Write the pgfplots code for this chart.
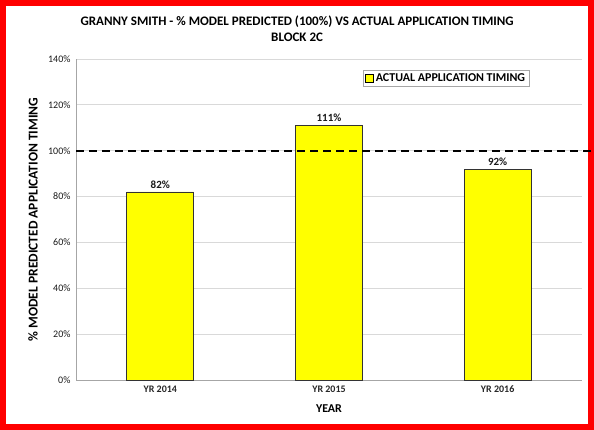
\documentclass[border=0pt]{standalone}
\usepackage{pgfplots}
\pgfplotsset{compat=1.18}
\usepackage{fontspec}
\setmainfont{Carlito}
\definecolor{gridgray}{HTML}{D9D9D9}
\definecolor{axgray}{HTML}{A6A6A6}
\definecolor{baryellow}{HTML}{FFFF00}
\begin{document}
\begin{tikzpicture}
\path (0pt,0pt) rectangle (594pt,430pt);
\draw[red, line width=6pt] (3pt,3pt) rectangle (591pt,427pt);
\begin{axis}[
  at={(76pt,50pt)}, anchor=south west,
  scale only axis, width=506pt, height=321pt,
  xmin=-0.5, xmax=2.5, ymin=0, ymax=140,
  bar width=67pt,
  xtick={0,1,2},
  xticklabels={YR 2014,YR 2015,YR 2016},
  major x tick style={draw=none},
  extra x ticks={-0.5,0.5,1.5,2.5},
  extra x tick labels={},
  extra x tick style={tick style={draw=axgray}, tick align=outside, major tick length=4pt},
  ytick={0,20,40,60,80,100,120,140},
  yticklabels={0\%,20\%,40\%,60\%,80\%,100\%,120\%,140\%},
  ytick style={draw=none},
  ymajorgrids, grid style={gridgray, line width=0.8pt},
  axis x line*=bottom, axis y line*=left,
  axis line style={axgray, line width=0.8pt},
  xticklabel style={font=\bfseries\fontsize{10}{12}\selectfont, text=black!85, yshift=-2pt},
  yticklabel style={font=\fontsize{10}{12}\selectfont, text=black!90, xshift=-2pt},
  xlabel={YEAR},
  xlabel style={at={(axis description cs:0.5,0)}, anchor=center, yshift=-29pt, font=\bfseries\fontsize{12}{14}\selectfont},
  ylabel={\% MODEL PREDICTED APPLICATION TIMING},
  ylabel style={at={(axis description cs:0,0.5)}, anchor=center, yshift=43pt, font=\bfseries\fontsize{13.5}{16}\selectfont},
  title={GRANNY SMITH - \% MODEL PREDICTED (100\%) VS ACTUAL APPLICATION TIMING\\BLOCK 2C},
  title style={at={(axis description cs:0.437,1)}, anchor=center, yshift=24pt, align=center, font=\bfseries\fontsize{13}{16}\selectfont},
  legend style={at={(axis description cs:0.567,0.966)}, anchor=north west, draw=axgray, font=\bfseries\fontsize{12}{14}\selectfont, inner xsep=2pt, inner ysep=1.5pt},
  legend image code/.code={\draw[fill=baryellow, draw=black, line width=0.7pt] (0pt,-4pt) rectangle (8pt,4pt);},
  clip=false,
]
\addplot[ybar, fill=baryellow, draw=black!80, line width=0.8pt,
  nodes near coords={\pgfmathprintnumber{\pgfplotspointmeta}\%},
  nodes near coords style={font=\bfseries\fontsize{11}{13}\selectfont, /pgf/number format/assume math mode=true, text=black!90}]
  coordinates {(0,82) (1,111) (2,92)};
\addlegendentry{ACTUAL APPLICATION TIMING}
\addplot[sharp plot, black, line width=1.6pt, dash pattern=on 8pt off 5pt, forget plot] coordinates {(-0.5,100) (2.56,100)};
\end{axis}
\end{tikzpicture}
\end{document}
